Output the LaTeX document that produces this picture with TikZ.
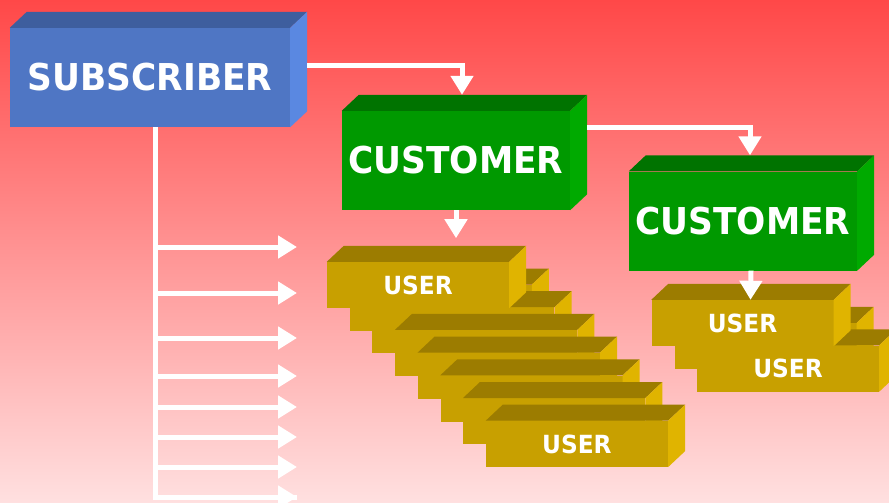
\documentclass[tikz,border=0pt]{standalone}
\usepackage{fontspec}
\usetikzlibrary{arrows.meta}
\newfontfamily\boxfont[FakeStretch=0.93]{DejaVu Sans}

\definecolor{bgtop}{RGB}{255,72,72}
\definecolor{bgmid}{RGB}{255,158,158}
\definecolor{bgbot}{RGB}{255,224,224}
\definecolor{subfront}{RGB}{79,118,196}
\definecolor{subtop}{RGB}{62,94,158}
\definecolor{subside}{RGB}{90,136,225}
\definecolor{custfront}{RGB}{0,153,0}
\definecolor{custtop}{RGB}{0,115,0}
\definecolor{custside}{RGB}{0,170,0}
\definecolor{userfront}{RGB}{200,160,0}
\definecolor{usertop}{RGB}{156,124,0}
\definecolor{userside}{RGB}{224,180,0}

% top and right faces behind a front node
\newcommand\sidefaces[3]{%
  \fill[#2] (#1.north east) -- (#1.north west) -- ++(17,-16)
    -- ([shift={(17pt,16pt)}]#1.north east) -- cycle;
  \fill[#3] (#1.north east) -- ([shift={(17pt,16pt)}]#1.north east)
    -- ([shift={(17pt,16pt)}]#1.south east) -- (#1.south east) -- cycle;
}

\tikzset{
  front/.style={text=white, inner sep=0pt},
  subbox/.style={front, fill=subfront, minimum width=280pt, minimum height=99pt,
    font=\boxfont\bfseries\fontsize{37}{40}\selectfont},
  custbox/.style={front, fill=custfront, minimum width=228pt, minimum height=99pt,
    font=\boxfont\bfseries\fontsize{37}{40}\selectfont},
  userbox/.style={front, fill=userfront, minimum width=182pt, minimum height=46pt,
    font=\boxfont\bfseries\fontsize{25}{28}\selectfont},
  link/.style={white, line width=5pt, -{Triangle[width=22pt 0 1,length=19pt 0 1]}},
}

\begin{document}
\begin{tikzpicture}[x=1pt, y=-1pt]

    % Hintergrund
    \useasboundingbox (0,0) rectangle (889,503);
    \clip (0,0) rectangle (889,503);
    \shade[top color=bgtop, middle color=bgmid, bottom color=bgbot] (0,0) rectangle (889,503);

    % Kästen
    \node[subbox] (sub) at (150,77.5) {SUBSCRIBER};
    \sidefaces{sub}{subtop}{subside}

    \node[custbox] (cust1) at (456,160.5) {CUSTOMER};
    \sidefaces{cust1}{custtop}{custside}

    \node[custbox] (cust2) at (743,221) {CUSTOMER};
    \sidefaces{cust2}{custtop}{custside}

    % Benutzer unter dem ersten Kunden
    \foreach \i/\t in {2/,3/,4/,5/,6/,7/,8/USER} {
        \node[userbox] (u\i) at ({418+22.7*(\i-1)},{285+22.7*(\i-1)}) {\t};
        \sidefaces{u\i}{usertop}{userside}
    }
    \node[userbox] (u1) at (418,285) {USER};
    \sidefaces{u1}{usertop}{userside}

    % Benutzer unter dem zweiten Kunden
    \node[userbox] (uB) at (765.5,346) {};
    \sidefaces{uB}{usertop}{userside}
    \node[userbox] (uC) at (788,368.5) {USER};
    \sidefaces{uC}{usertop}{userside}
    \node[userbox] (uA) at (742.5,323) {USER};
    \sidefaces{uA}{usertop}{userside}

    % Verbindungen
    \draw[link] ([shift={(17pt,11.5pt)}]sub.east) -| ([shift={(6pt,16pt)}]cust1.north);
    \draw[link] ([shift={(17pt,33.5pt)}]cust1.east) -| ([shift={(7pt,16pt)}]cust2.north);
    \draw[link] (cust1.south) -- ++(0,28);
    \draw[link] ([xshift=8pt]cust2.south) -- ([xshift=8pt]uA.north);

    % Stamm mit Pfeilen
    \coordinate (trunk) at ([xshift=5pt]sub.south);
    \foreach \y [count=\i] in {247,293,338,376,407,437,467,497}
        \coordinate (tip\i) at (297,\y);
    \draw[white, line width=5pt] (trunk) |- (tip8);
    \foreach \i in {1,...,8}
        \draw[link] (trunk |- tip\i) -- (tip\i);

\end{tikzpicture}
\end{document}
